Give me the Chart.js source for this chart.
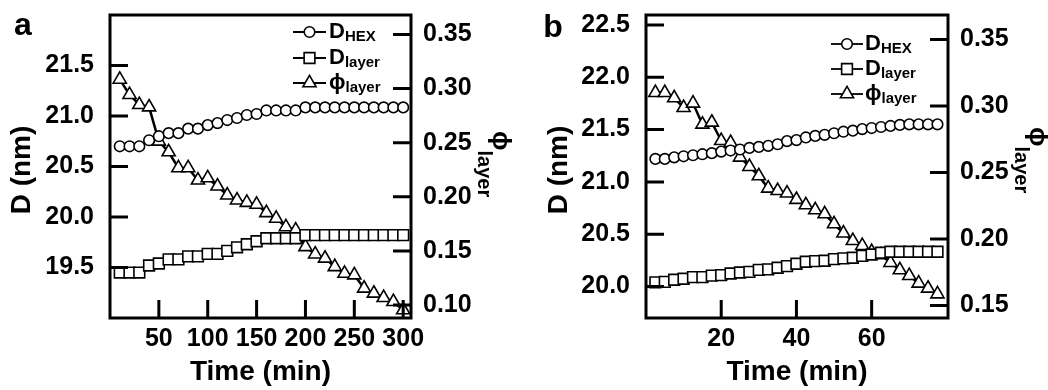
<!DOCTYPE html>
<html>
<head>
<meta charset="utf-8">
<script src="https://cdn.jsdelivr.net/npm/chart.js@4.4.1/dist/chart.umd.min.js"></script>
<style>
  body { margin: 0; background: #fff; }
  .panel { position: absolute; top: 0; width: 524px; height: 390px; }
</style>
</head>
<body>
<div class="panel" style="left:0"><canvas id="chartA" width="524" height="390"></canvas></div>
<div class="panel" style="left:524px"><canvas id="chartB" width="524" height="390"></canvas></div>
<script>
const FONT = "'Liberation Sans', Arial, Helvetica, sans-serif"

// panel a: time in minutes
const timeA = [10, 20, 30, 40, 50, 60, 70, 80, 90, 100, 110, 120, 130, 140, 150,
  160, 170, 180, 190, 200, 210, 220, 230, 240, 250, 260, 270, 280, 290, 300]
const dHexA = [20.70, 20.70, 20.70, 20.76, 20.80, 20.83, 20.83, 20.875, 20.875, 20.91,
  20.93, 20.96, 20.98, 21.01, 21.02, 21.055, 21.055, 21.055, 21.055, 21.085,
  21.085, 21.085, 21.085, 21.085, 21.085, 21.085, 21.085, 21.085, 21.085, 21.085]
const dLayerA = [19.45, 19.45, 19.45, 19.52, 19.54, 19.58, 19.58, 19.61, 19.61, 19.635,
  19.635, 19.665, 19.70, 19.73, 19.76, 19.79, 19.79, 19.79, 19.79, 19.82,
  19.82, 19.82, 19.82, 19.82, 19.82, 19.82, 19.82, 19.82, 19.82, 19.82]
const phiA = [0.3085, 0.2944, 0.2851, 0.2829, 0.2513, 0.2414, 0.2267, 0.2267, 0.2153, 0.2174,
  0.2098, 0.2015, 0.1969, 0.1947, 0.1930, 0.1852, 0.1800, 0.1722, 0.1692, 0.1538,
  0.1470, 0.1431, 0.1353, 0.1292, 0.1277, 0.1154, 0.1108, 0.1067, 0.1030, 0.0954]

// panel b
const timeB = [2.5, 5, 7.5, 10, 12.5, 15, 17.5, 20, 22.5, 25, 27.5, 30, 32.5, 35, 37.5, 40,
  42.5, 45, 47.5, 50, 52.5, 55, 57.5, 60, 62.5, 65, 67.5, 70, 72.5, 75, 77.5]
const dHexB = [21.22, 21.22, 21.235, 21.245, 21.255, 21.265, 21.275, 21.29, 21.30, 21.31,
  21.325, 21.335, 21.345, 21.36, 21.39, 21.40, 21.425, 21.44, 21.45, 21.465,
  21.48, 21.49, 21.505, 21.515, 21.525, 21.535, 21.545, 21.55, 21.55, 21.55, 21.55]
const dLayerB = [20.04, 20.045, 20.065, 20.075, 20.09, 20.09, 20.105, 20.11, 20.125, 20.135,
  20.14, 20.16, 20.165, 20.18, 20.195, 20.218, 20.237, 20.244, 20.247, 20.263,
  20.27, 20.276, 20.294, 20.307, 20.323, 20.333, 20.333, 20.333, 20.333, 20.333, 20.333]
const phiB = [0.310, 0.310, 0.306, 0.2987, 0.302, 0.2862, 0.2877, 0.2739, 0.2724, 0.2614,
  0.2544, 0.2474, 0.2381, 0.2363, 0.2344, 0.2296, 0.2256, 0.2218, 0.2188, 0.2113,
  0.2043, 0.1987, 0.1950, 0.1904, 0.1880, 0.1822, 0.1767, 0.1724, 0.1667, 0.1629, 0.1586]

// tick values
const xTicksA = [50, 100, 150, 200, 250, 300]
const dTicksA = [19.5, 20.0, 20.5, 21.0, 21.5]
const phiTicksA = [0.10, 0.15, 0.20, 0.25, 0.30, 0.35]
const xTicksB = [20, 40, 60]
const dTicksB = [20.0, 20.5, 21.0, 21.5, 22.0, 22.5]
const phiTicksB = [0.15, 0.20, 0.25, 0.30, 0.35]

const legendNames = [['D', 'HEX'], ['D', 'layer'], ['ϕ', 'layer']]
const markerStyles = ['circle', 'rect', 'triangle']

const TICK = 18
const CIRCLE_R = 5.3
const RECT_R = 7.6
const TRI_R = 7.6
const MARK_W = 1.6

const drawMarker = (ctx, style, x, y) => {
  ctx.beginPath()
  if (style === 'circle') {
    ctx.arc(x, y, CIRCLE_R, 0, Math.PI * 2)
  } else if (style === 'rect') {
    const h = RECT_R * Math.SQRT1_2
    ctx.rect(x - h, y - h, 2 * h, 2 * h)
  } else {
    ctx.moveTo(x, y - TRI_R)
    ctx.lineTo(x + TRI_R * Math.sin(Math.PI * 2 / 3), y - TRI_R * Math.cos(Math.PI * 2 / 3))
    ctx.lineTo(x + TRI_R * Math.sin(Math.PI * 4 / 3), y - TRI_R * Math.cos(Math.PI * 4 / 3))
    ctx.closePath()
  }
  ctx.fillStyle = '#fff'
  ctx.fill()
  ctx.lineWidth = MARK_W
  ctx.strokeStyle = '#000'
  ctx.stroke()
}

// text with a lowered subscript, drawn along the current x direction
const drawSub = (ctx, x, y, main, sub, mainSize, subSize, drop) => {
  ctx.fillStyle = '#000'
  ctx.textAlign = 'left'
  ctx.textBaseline = 'middle'
  ctx.font = `bold ${mainSize}px ${FONT}`
  ctx.fillText(main, x, y)
  const w = ctx.measureText(main).width
  ctx.font = `bold ${subSize}px ${FONT}`
  ctx.fillText(sub, x + w, y + drop)
}

const panelDecor = {
  id: 'panelDecor',
  afterDraw(chart, args, o) {
    const { ctx, chartArea: { left, right, top, bottom }, scales } = chart
    ctx.save()

    // frame and inward ticks
    ctx.strokeStyle = '#000'
    ctx.lineWidth = 3
    ctx.strokeRect(left, top, right - left, bottom - top)
    ctx.beginPath()
    scales.x.ticks.forEach(t => {
      const px = scales.x.getPixelForValue(t.value)
      ctx.moveTo(px, bottom); ctx.lineTo(px, bottom - TICK)
    })
    scales.yD.ticks.forEach(t => {
      const py = scales.yD.getPixelForValue(t.value)
      ctx.moveTo(left, py); ctx.lineTo(left + TICK, py)
    })
    scales.yPhi.ticks.forEach(t => {
      const py = scales.yPhi.getPixelForValue(t.value)
      ctx.moveTo(right, py); ctx.lineTo(right - TICK, py)
    })
    ctx.stroke()

    ctx.fillStyle = '#000'
    ctx.textAlign = 'center'
    ctx.textBaseline = 'middle'

    // panel letter
    ctx.font = `bold 32px ${FONT}`
    ctx.fillText(o.letter, o.letterAt[0], o.letterAt[1])

    // axis titles
    ctx.font = `bold 28px ${FONT}`
    ctx.fillText('Time (min)', (left + right) / 2, o.xTitleY)
    ctx.save()
    ctx.translate(o.dTitleAt[0], o.dTitleAt[1])
    ctx.rotate(-Math.PI / 2)
    ctx.fillText('D (nm)', 0, 0)
    ctx.restore()

    ctx.save()
    ctx.translate(o.phiTitleAt[0], o.phiTitleAt[1])
    ctx.rotate(Math.PI / 2)
    drawSub(ctx, 0, 0, 'ϕ', 'layer', 26, 20, 16)
    ctx.restore()

    // legend
    const lg = o.legend
    legendNames.forEach(([main, sub], i) => {
      const y = lg.rows[i]
      ctx.beginPath()
      ctx.lineWidth = 1.8
      ctx.strokeStyle = '#000'
      ctx.moveTo(lg.x1, y); ctx.lineTo(lg.x2, y)
      ctx.stroke()
      drawMarker(ctx, markerStyles[i], (lg.x1 + lg.x2) / 2, y)
      drawSub(ctx, lg.xt, y, main, sub, 22, 15, 5)
    })

    ctx.restore()
  }
}

const toPoints = (xs, ys) => xs.map((x, i) => ({ x, y: ys[i] }))

const axis = (position, min, max, tickValues, digits, size, padding) => ({
  type: 'linear',
  position,
  min,
  max,
  grid: { display: false, drawTicks: false },
  border: { display: false },
  afterBuildTicks: scale => { scale.ticks = tickValues.map(value => ({ value })) },
  afterFit: scale => {
    if (position === 'bottom') scale.height = size
    else scale.width = size
    scale.paddingTop = scale.paddingBottom = scale.paddingLeft = scale.paddingRight = 0
  },
  ticks: {
    color: '#000',
    padding,
    autoSkip: false,
    maxRotation: 0,
    minRotation: 0,
    font: { family: FONT, size: 25, weight: 'bold' },
    callback: v => v.toFixed(digits)
  }
})

const series = (data, yAxisID, style, radius, width) => ({
  data,
  yAxisID,
  borderColor: '#000',
  borderWidth: width,
  pointStyle: style,
  pointRadius: radius,
  pointBackgroundColor: '#fff',
  pointBorderColor: '#000',
  pointBorderWidth: MARK_W,
  tension: 0,
  clip: false
})

const renderPanel = (id, p) => {
  new Chart(id, {
    type: 'line',
    data: {
      datasets: [
        series(toPoints(p.time, p.dHex), 'yD', 'circle', CIRCLE_R, 1.5),
        series(toPoints(p.time, p.dLayer), 'yD', 'rect', RECT_R, 1.5),
        series(toPoints(p.time, p.phi), 'yPhi', 'triangle', TRI_R, 2.5)
      ]
    },
    options: {
      responsive: false,
      animation: false,
      devicePixelRatio: 1,
      layout: { padding: { top: 15 }, autoPadding: false },
      plugins: {
        legend: { display: false },
        tooltip: { enabled: false },
        panelDecor: p.decor
      },
      scales: {
        x: axis('bottom', p.xRange[0], p.xRange[1], p.xTicks, 0, 72, 6),
        yD: axis('left', p.dRange[0], p.dRange[1], p.dTicks, 1, p.leftW, 16),
        yPhi: axis('right', p.phiRange[0], p.phiRange[1], p.phiTicks, 2, p.rightW, 12)
      }
    },
    plugins: [panelDecor]
  })
}

renderPanel('chartA', {
  time: timeA, dHex: dHexA, dLayer: dLayerA, phi: phiA,
  xRange: [0, 308], dRange: [19.0, 22.0], phiRange: [0.088, 0.368],
  xTicks: xTicksA, dTicks: dTicksA, phiTicks: phiTicksA,
  leftW: 110, rightW: 113,
  decor: {
    letter: 'a', letterAt: [23, 26],
    xTitleY: 372, dTitleAt: [22, 170], phiTitleAt: [500, 131],
    legend: { x1: 293, x2: 326, xt: 329, rows: [32, 58, 83] }
  }
})

renderPanel('chartB', {
  time: timeB, dHex: dHexB, dLayer: dLayerB, phi: phiB,
  xRange: [0, 80.3], dRange: [19.70, 22.595], phiRange: [0.1406, 0.3684],
  xTicks: xTicksB, dTicks: dTicksB, phiTicks: phiTicksB,
  leftW: 122, rightW: 100,
  decor: {
    letter: 'b', letterAt: [29, 28],
    xTitleY: 372, dTitleAt: [35, 170], phiTitleAt: [513, 127],
    legend: { x1: 307, x2: 339, xt: 341, rows: [44, 69, 94] }
  }
})
</script>
</body>
</html>
